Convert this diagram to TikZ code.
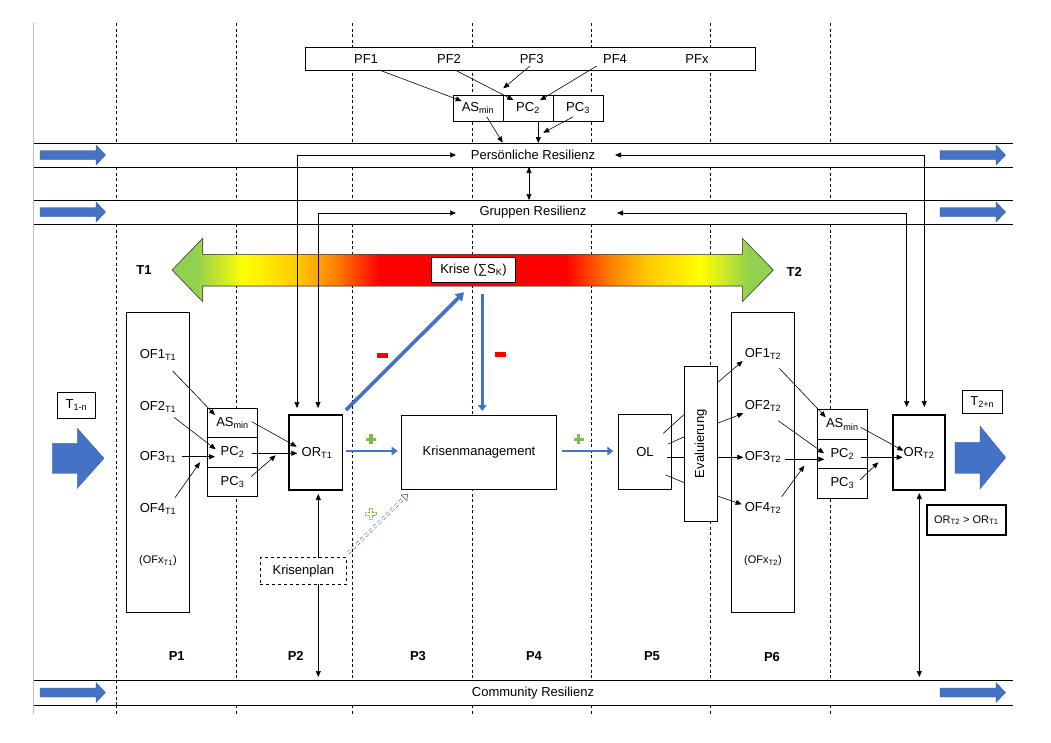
\documentclass[tikz,border=0pt]{standalone}
\usepackage{fontspec}
\setmainfont{Liberation Sans}
\usetikzlibrary{arrows.meta,calc}
\definecolor{kblue}{RGB}{68,114,196}
\definecolor{kbluedk}{RGB}{47,82,143}
\definecolor{kgreen}{RGB}{146,208,80}
\definecolor{kyellow}{RGB}{255,255,0}
\definecolor{kgold}{RGB}{255,200,0}
\definecolor{korange}{RGB}{255,130,0}
\definecolor{kred}{RGB}{255,0,0}
\definecolor{pgreen}{RGB}{125,190,70}
\definecolor{edgegray}{RGB}{190,190,190}
\definecolor{outlinegray}{RGB}{70,70,70}
\pgfdeclarehorizontalshading{kriseshade}{100bp}{color(0bp)=(kgreen); color(27bp)=(kgreen); color(31bp)=(kyellow); color(35.5bp)=(kgold); color(38.5bp)=(korange); color(42.3bp)=(kred); color(57.7bp)=(kred); color(61.5bp)=(korange); color(64.5bp)=(kgold); color(69bp)=(kyellow); color(73bp)=(kgreen); color(100bp)=(kgreen)}
\newcommand{\sbs}[1]{\textsubscript{#1}}
\newcommand{\blockarr}[2]{\filldraw[fill=kblue, draw=kbluedk, line width=0.3pt] (#1,#2-4.5) -- (#1+56,#2-4.5) -- (#1+56,#2-10) -- (#1+65.5,#2) -- (#1+56,#2+10) -- (#1+56,#2+4.5) -- (#1,#2+4.5) -- cycle;}
\tikzset{
  gplus/.pic={\fill[pgreen] (-5,-1.7) rectangle (5,1.7); \fill[pgreen] (-1.7,-5) rectangle (1.7,5);},
  hplus/.pic={\draw[pgreen, line width=0.7pt, dash pattern=on 2pt off 1pt] (-1.8,-5.5) -- (1.8,-5.5) -- (1.8,-1.8) -- (5.5,-1.8) -- (5.5,1.8) -- (1.8,1.8) -- (1.8,5.5) -- (-1.8,5.5) -- (-1.8,1.8) -- (-5.5,1.8) -- (-5.5,-1.8) -- (-1.8,-1.8) -- cycle;},
}
\begin{document}
\begin{tikzpicture}[x=1pt, y=-1pt,
  every node/.style={font=\fontsize{13}{15}\selectfont, inner sep=1pt},
  small/.style={font=\fontsize{11}{13}\selectfont},
  box/.style={draw, fill=white, line width=0.6pt, inner sep=0pt},
  thickbox/.style={box, line width=1.7pt},
  arr/.style={-{Triangle[length=6pt,width=5pt]}, line width=0.6pt},
  darr/.style={{Triangle[length=6pt,width=5pt]}-{Triangle[length=6pt,width=5pt]}, line width=0.6pt},
  plain/.style={line width=0.6pt},
  barr/.style={kblue, line width=2.8pt, -{Triangle[length=6pt,width=8.5pt]}},
  grid/.style={line width=0.6pt, dash pattern=on 3pt off 2.5pt},
  barline/.style={line width=0.8pt},
  bold/.style={font=\fontsize{13}{15}\selectfont\bfseries},
]
\fill[white] (0,0) rectangle (1051,742);
\useasboundingbox (0,0) rectangle (1051,742);

% frame line and phase separators
\draw[edgegray, line width=0.8pt] (33.5,23) -- (33.5,714);
\foreach \x in {116,236,352,472,591,710,830} {
  \draw[grid] (\x,23) -- (\x,143);
  \draw[grid] (\x,167) -- (\x,200);
  \draw[grid] (\x,224) -- (\x,680);
  \draw[grid] (\x,705) -- (\x,714);
}
\draw[grid] (116,680) -- (116,705);

% resilience bars
\foreach \y in {143,167,200,224,680,705} \draw[barline] (34,\y) -- (1013,\y);
\blockarr{40}{155}
\blockarr{40}{212}
\blockarr{40}{692.5}
\blockarr{940}{155}
\blockarr{940}{212}
\blockarr{940}{692.5}
\node (pr) at (533,155) {Persönliche Resilienz};
\node (gr) at (533,212.3) {Gruppen Resilienz};
\node (cr) at (533,692.7) {Community Resilienz};

% personal factors
\node[box, minimum width=449.6pt, minimum height=22.7pt] (pfbox) at (530.5,58.7) {};
\node (pf1) at (366,58.7) {PF1};
\node (pf2) at (449,58.7) {PF2};
\node (pf3) at (531.7,58.7) {PF3};
\node (pf4) at (615,58.7) {PF4};
\node (pfx) at (697,58.7) {PFx};
\node[box, minimum width=50pt, minimum height=26pt] (asT) at (478,108) {AS\sbs{min}};
\node[box, minimum width=50pt, minimum height=26pt] (pc2T) at (528,108) {PC\sbs{2}};
\node[box, minimum width=50pt, minimum height=26pt] (pc3T) at (578,108) {PC\sbs{3}};
\draw[arr] (379.3,70) -- (461.7,101);
\draw[arr] (455,70) -- (513.3,100);
\draw[arr] (530,66) -- (503.3,88.3);
\draw[arr] (596.7,66) -- (540,100.3);
\draw[arr] (486.7,116.7) -- (502.7,142.7);
\draw[arr] (538.3,121) -- (538.3,143);
\draw[arr] (573.3,116.7) -- (543.3,132.7);
\draw[darr] (529,167) -- (529,200);

% crisis arrow
\filldraw[shading=kriseshade, draw=outlinegray, line width=0.6pt]
  (172,270) -- (202.7,238.3) -- (202.7,254.3) -- (742.3,254.3) -- (742.3,238.3) -- (773.3,270)
  -- (742.3,301.7) -- (742.3,286) -- (202.7,286) -- (202.7,301.7) -- cycle;
\node[box, minimum width=83.6pt, minimum height=25pt] (krise) at (473.5,269.8) {Krise (∑S\sbs{K})};
\node[bold] (t1) at (144,270) {T1};
\node[bold] (t2) at (794.3,271.7) {T2};

% left side
\node[box, minimum width=38.4pt, minimum height=26pt] (t1n) at (76.5,405.3) {T\sbs{1-n}};
\filldraw[fill=kblue, draw=kbluedk, line width=0.3pt] (52.3,443.3) -- (77.3,443.3) -- (77.3,428.3) -- (104,458.3) -- (77.3,488.3) -- (77.3,473.3) -- (52.3,473.3) -- cycle;
\node[box, minimum width=62.6pt, minimum height=300pt] (ofA) at (158,462.3) {};
\node (of1a) at (158,355) {OF1\sbs{T1}};
\node (of2a) at (158,406.7) {OF2\sbs{T1}};
\node (of3a) at (158,457.3) {OF3\sbs{T1}};
\node (of4a) at (158,509) {OF4\sbs{T1}};
\node[small] (ofxa) at (158,561) {(OFx\sbs{T1})};
\node[box, minimum width=50.4pt, minimum height=29pt] (asA) at (232.5,422.8) {AS\sbs{min}};
\node[box, minimum width=50.4pt, minimum height=30pt] (pc2A) at (232.5,452.3) {PC\sbs{2}};
\node[box, minimum width=50.4pt, minimum height=28.7pt] (pc3A) at (232.5,481.7) {PC\sbs{3}};
\node[thickbox, minimum width=53.3pt, minimum height=75pt] (orA) at (315.7,452.5) {};
\node (orAt) at (317,453.3) {OR\sbs{T1}};
\draw[arr] (172.7,371) -- (215,415);
\draw[arr] (174,417.3) -- (215.7,449.3);
\draw[arr] (182.3,456.7) -- (215,456.7);
\draw[arr] (175,497.7) -- (200,462.3);
\draw[arr] (251.7,421.7) -- (296.7,446.7);
\draw[arr] (251.7,453.3) -- (297.3,453.3);
\draw[arr] (251,476.7) -- (275.7,455.3);
\node[box, dashed, minimum width=86.7pt, minimum height=26.3pt] (kplan) at (303.3,570.8) {Krisenplan};
\draw[arr] (318.3,557.7) -- (318.3,494);
\draw[arr] (318.3,584) -- (318.3,677);

% links to resilience bars
\draw[darr] (297,408) |- (456,155);
\draw[darr] (318,408) |- (456,213);
\draw[darr] (924.3,407) |- (615,155);
\draw[darr] (906.7,407) |- (617,213);

% crisis management
\node[box, minimum width=155.4pt, minimum height=74pt] (km) at (479,452.3) {Krisenmanagement};
\draw[barr, line width=3.6pt, -{Triangle[length=8pt,width=10pt]}] (346,410) -- (464,292.3);
\draw[barr] (482.3,294.3) -- (482.3,411);
\draw[barr] (346,451) -- (397.7,451);
\draw[barr] (562.3,451) -- (613.3,451);
\fill[kred] (376.5,353.2) rectangle (388,358.2);
\fill[kred] (494.5,352.2) rectangle (506,357.2);
\pic at (371,439.3) {gplus};
\pic at (578.7,439.3) {gplus};
\pic at (371,514) {hplus};
\draw[kbluedk, dashed, line width=0.5pt, double=white, double distance=2.2pt] (348.3,552.7) -- (404.1,497.8);
\filldraw[fill=white, draw=kbluedk, line width=0.5pt] (407.7,494.3) -- (406.9,500.65) -- (401.3,494.95) -- cycle;

% learning and evaluation
\node[box, minimum width=53.4pt, minimum height=75pt] (ol) at (645,451.8) {OL};
\node[box, minimum width=33pt, minimum height=154.7pt] (eval) at (700.8,443.7) {};
\node[rotate=90] (evalt) at (700.8,443.7) {Evaluierung};
\draw[plain] (663.3,433.3) -- (684.3,414.3);
\draw[plain] (668.3,444) -- (684.3,436.7);
\draw[plain] (666.7,457.3) -- (684.3,457.3);
\draw[plain] (665.7,475) -- (684.3,482.7);

% right side
\node[box, minimum width=62.6pt, minimum height=300pt] (ofB) at (763,462.3) {};
\node (of1b) at (763,354) {OF1\sbs{T2}};
\node (of2b) at (763,406) {OF2\sbs{T2}};
\node (of3b) at (763,457.3) {OF3\sbs{T2}};
\node (of4b) at (763,508.3) {OF4\sbs{T2}};
\node[small] (ofxb) at (763,560.7) {(OFx\sbs{T2})};
\draw[arr] (717.3,382.7) -- (742.7,361);
\draw[arr] (717.3,423.3) -- (743.3,413.3);
\draw[arr] (717.3,457.3) -- (743.3,457.3);
\draw[arr] (717.3,496) -- (741.7,504.3);
\node[box, minimum width=50pt, minimum height=30pt] (asB) at (842.3,424.3) {AS\sbs{min}};
\node[box, minimum width=50pt, minimum height=29pt] (pc2B) at (842.3,453.8) {PC\sbs{2}};
\node[box, minimum width=50pt, minimum height=30pt] (pc3B) at (842.3,483.3) {PC\sbs{3}};
\draw[arr] (779.3,368.3) -- (825.7,417.3);
\draw[arr] (778.3,420.7) -- (824,453.3);
\draw[arr] (785,459.3) -- (824.3,459.3);
\draw[arr] (781.7,496.7) -- (804.3,465.7);
\node[thickbox, minimum width=52.3pt, minimum height=75pt] (orB) at (918.8,452.5) {};
\node (orBt) at (919,452.7) {OR\sbs{T2}};
\draw[arr] (860.7,427.3) -- (903.3,450.7);
\draw[arr] (861,457.3) -- (902.7,457.3);
\draw[arr] (860,480) -- (878.3,462.3);
\draw[darr] (919.3,677) -- (919.3,493);
\node[box, minimum width=40pt, minimum height=23pt] (t2n) at (982.3,401.8) {T\sbs{2+n}};
\filldraw[fill=kblue, draw=kbluedk, line width=0.3pt] (955,442.3) -- (980,442.3) -- (980,426) -- (1005.7,457.5) -- (980,489) -- (980,473.3) -- (955,473.3) -- cycle;
\node[thickbox, small, minimum width=79.3pt, minimum height=30pt] (orcmp) at (966.3,520) {OR\sbs{T2} > OR\sbs{T1}};

% phase labels
\node[bold] (p1) at (176.7,656) {P1};
\node[bold] (p2) at (295.7,656) {P2};
\node[bold] (p3) at (418,656) {P3};
\node[bold] (p4) at (534,656) {P4};
\node[bold] (p5) at (652,656) {P5};
\node[bold] (p6) at (772,657.5) {P6};
\end{tikzpicture}
\end{document}
